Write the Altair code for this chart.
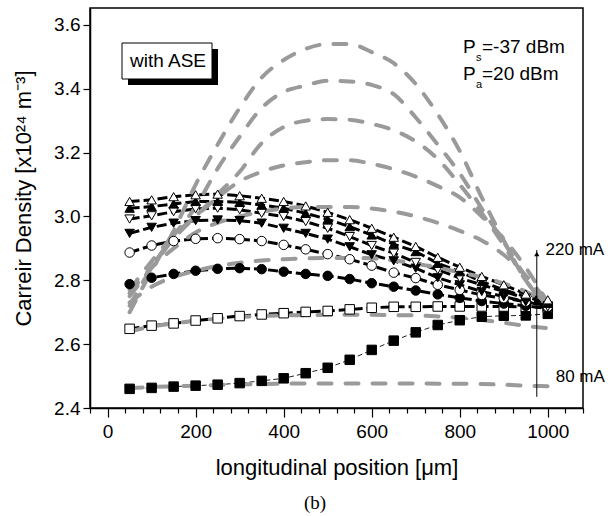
import altair as alt
import pandas as pd

# ---------------- data ----------------
positions = [50, 100, 150, 200, 250, 300, 350, 400, 450, 500,
             550, 600, 650, 700, 750, 800, 850, 900, 950, 1000]

currents = ["80 mA", "100 mA", "120 mA", "140 mA", "160 mA", "180 mA", "200 mA", "220 mA"]

# carrier density with ASE (black, markers)
with_ase = {
    "80 mA":  [2.460, 2.463, 2.467, 2.470, 2.473, 2.478, 2.485, 2.493, 2.509, 2.526,
               2.551, 2.582, 2.611, 2.637, 2.660, 2.675, 2.686, 2.689, 2.690, 2.695],
    "100 mA": [2.648, 2.658, 2.665, 2.674, 2.681, 2.688, 2.693, 2.697, 2.701, 2.704,
               2.709, 2.714, 2.717, 2.717, 2.718, 2.718, 2.718, 2.718, 2.717, 2.715],
    "120 mA": [2.788, 2.808, 2.820, 2.830, 2.836, 2.838, 2.835, 2.827, 2.820, 2.814,
               2.804, 2.791, 2.780, 2.768, 2.756, 2.745, 2.735, 2.727, 2.720, 2.712],
    "140 mA": [2.887, 2.909, 2.923, 2.930, 2.932, 2.929, 2.923, 2.911, 2.897, 2.882,
               2.866, 2.846, 2.824, 2.807, 2.786, 2.770, 2.754, 2.744, 2.733, 2.717],
    "160 mA": [2.947, 2.966, 2.979, 2.987, 2.989, 2.987, 2.979, 2.963, 2.947, 2.929,
               2.905, 2.880, 2.861, 2.838, 2.808, 2.786, 2.765, 2.749, 2.733, 2.720],
    "180 mA": [2.992, 3.002, 3.015, 3.024, 3.026, 3.021, 3.010, 3.000, 2.984, 2.963,
               2.937, 2.909, 2.885, 2.856, 2.833, 2.807, 2.786, 2.765, 2.744, 2.717],
    "200 mA": [3.026, 3.031, 3.039, 3.047, 3.047, 3.044, 3.036, 3.026, 3.010, 2.991,
               2.968, 2.942, 2.913, 2.890, 2.853, 2.827, 2.796, 2.770, 2.749, 2.728],
    "220 mA": [3.047, 3.052, 3.062, 3.068, 3.070, 3.065, 3.057, 3.047, 3.033, 3.013,
               2.990, 2.963, 2.935, 2.906, 2.872, 2.841, 2.812, 2.786, 2.757, 2.739],
}

# gray dashed curves
without_ase = {
    "80 mA":  [2.462, 2.466, 2.468, 2.470, 2.472, 2.474, 2.475, 2.476, 2.477, 2.477,
               2.477, 2.477, 2.477, 2.477, 2.476, 2.476, 2.475, 2.473, 2.470, 2.468],
    "100 mA": [2.640, 2.655, 2.665, 2.673, 2.680, 2.685, 2.688, 2.690, 2.691, 2.692,
               2.692, 2.692, 2.691, 2.690, 2.687, 2.683, 2.676, 2.667, 2.657, 2.650],
    "120 mA": [2.730, 2.780, 2.810, 2.830, 2.845, 2.855, 2.862, 2.866, 2.869, 2.870,
               2.870, 2.869, 2.862, 2.852, 2.840, 2.825, 2.810, 2.790, 2.765, 2.730],
    "140 mA": [2.760, 2.840, 2.900, 2.950, 2.980, 3.000, 3.015, 3.025, 3.030, 3.030,
               3.030, 3.025, 3.015, 3.000, 2.980, 2.955, 2.925, 2.880, 2.815, 2.730],
    "160 mA": [2.770, 2.860, 2.940, 3.000, 3.060, 3.110, 3.140, 3.160, 3.170, 3.176,
               3.176, 3.165, 3.148, 3.125, 3.095, 3.060, 3.000, 2.930, 2.840, 2.730],
    "180 mA": [2.750, 2.840, 2.930, 3.000, 3.070, 3.140, 3.230, 3.280, 3.300, 3.305,
               3.303, 3.290, 3.270, 3.235, 3.180, 3.100, 3.010, 2.910, 2.800, 2.720],
    "200 mA": [2.720, 2.840, 2.940, 3.030, 3.150, 3.250, 3.340, 3.390, 3.410, 3.425,
               3.423, 3.412, 3.383, 3.310, 3.225, 3.135, 3.025, 2.920, 2.810, 2.720],
    "220 mA": [2.700, 2.830, 2.955, 3.100, 3.225, 3.340, 3.435, 3.490, 3.525, 3.540,
               3.540, 3.515, 3.480, 3.415, 3.320, 3.205, 3.060, 2.925, 2.800, 2.720],
}

marker_shapes = ["square", "square", "circle", "circle",
                 "triangle-down", "triangle-down", "triangle-up", "triangle-up"]
marker_fills = ["black", "white", "black", "white", "black", "white", "black", "white"]

x_ticks = list(range(-40, 1081, 40))
y_ticks = [round(2.4 + 0.1 * i, 1) for i in range(13)]

# annotation (data coordinates)
arrow_x = [975]
arrow_bottom = [2.435]
arrow_top = [2.895]
current_labels = ["220 mA", "80 mA"]
current_label_x = [995, 1018]
current_label_y = [2.895, 2.498]

# ---------------- tables ----------------
rows = []
for c in currents:
    for xv, yv in zip(positions, with_ase[c]):
        rows.append({"x": xv, "y": yv, "series": c})
df_black = pd.DataFrame(rows)

rows = []
for c in currents:
    for xv, yv in zip(positions, without_ase[c]):
        rows.append({"x": xv, "y": yv, "series": c})
df_gray = pd.DataFrame(rows)

df_arrow = pd.DataFrame({"x": arrow_x, "y": arrow_bottom, "y2": arrow_top})
df_labels = pd.DataFrame({"x": current_label_x, "y": current_label_y, "t": current_labels})
one = pd.DataFrame({"k": [0]})

FONT = "Liberation Sans"

x_axis = alt.Axis(
    values=x_ticks,
    labelExpr="(datum.value % 200 === 0 && datum.value >= 0 && datum.value <= 1000) ? datum.label : ''",
    format="d",
    tickSize={"condition": {"test": "datum.value % 200 === 0", "value": 9}, "value": 5},
    labelPadding=5,
    labelOverlap=False,
    title="longitudinal position [\u03bcm]",
    titleFontSize=22,
    titleFontWeight="normal",
    titleY=59,
    titleBaseline="middle",
    grid=False,
)
y_axis = alt.Axis(
    values=y_ticks,
    labelExpr="round(datum.value * 10) % 2 === 0 ? format(datum.value, '.1f') : ''",
    tickSize={"condition": {"test": "round(datum.value * 10) % 2 === 0", "value": 7}, "value": 5},
    labelPadding=3,
    labelOverlap=False,
    title="Carreir Density [x10\u00b2\u2074 m\u207b\u00b3]",
    titleFontSize=22,
    titleFontWeight="normal",
    titleX=-67,
    titleY=190,
    titleBaseline="middle",
    grid=False,
)

X = alt.X("x:Q", scale=alt.Scale(domain=[-40, 1080], nice=False, zero=False), axis=x_axis)
Y = alt.Y("y:Q", scale=alt.Scale(domain=[2.4, 3.653], nice=False, zero=False), axis=y_axis)

thick = alt.Chart(df_black[df_black.series != "80 mA"]).mark_line(
    color="black", strokeWidth=3, strokeDash=[10, 4]
).encode(x=X, y=Y, detail="series:N")

thin = alt.Chart(df_black[df_black.series == "80 mA"]).mark_line(
    color="#222222", strokeWidth=1, strokeDash=[5, 3]
).encode(x=X, y=Y)

gray = alt.Chart(df_gray).mark_line(
    color="#9a9a9a", strokeWidth=4, strokeDash=[13, 14], strokeCap="round", interpolate="monotone"
).encode(x=X, y=Y, detail="series:N")

markers = alt.Chart(df_black).mark_point(
    filled=True, stroke="black", strokeWidth=1, size=90, opacity=1
).encode(
    x=X, y=Y,
    shape=alt.Shape("series:N", scale=alt.Scale(domain=currents, range=marker_shapes), legend=None),
    fill=alt.Fill("series:N", scale=alt.Scale(domain=currents, range=marker_fills), legend=None),
)

arrow_rule = alt.Chart(df_arrow).mark_rule(color="black", strokeWidth=1).encode(
    x=X, y=Y, y2="y2:Q"
)
arrow_head = alt.Chart(df_arrow).mark_point(
    shape="triangle-up", filled=True, color="black", size=28, opacity=1, yOffset=4
).encode(x=X, y=alt.Y("y2:Q"))

mA_text = alt.Chart(df_labels).mark_text(
    align="left", baseline="middle", font=FONT, fontSize=17, color="black"
).encode(x=X, y=Y, text="t:N")

shadow = alt.Chart(one).mark_rect(color="black").encode(
    x=alt.value(38), x2=alt.value(128), y=alt.value(41), y2=alt.value(77)
)
box = alt.Chart(one).mark_rect(fill="white", stroke="black", strokeWidth=1).encode(
    x=alt.value(32), x2=alt.value(122), y=alt.value(35), y2=alt.value(71)
)
box_text = alt.Chart(one).mark_text(
    text="with ASE", font=FONT, fontSize=19, align="center", baseline="alphabetic", color="black"
).encode(x=alt.value(78), y=alt.value(59))


def txt(s, x, y, size=19):
    return alt.Chart(one).mark_text(
        text=s, font=FONT, fontSize=size, align="left", baseline="alphabetic", color="black"
    ).encode(x=alt.value(x), y=alt.value(y))


p1 = txt("P", 373, 45)
p1s = txt("s", 386, 53, 11)
p1r = txt("=-37 dBm", 392, 45)
p2 = txt("P", 373, 72)
p2s = txt("a", 386, 80, 11)
p2r = txt("=20 dBm", 392, 72)

b_text = alt.Chart(one).mark_text(
    text="(b)", font="Liberation Serif", fontSize=19, align="center", baseline="middle", color="black"
).encode(x=alt.value(225), y=alt.value(495))

chart = alt.layer(
    thick, thin, gray, markers, arrow_rule, arrow_head, mA_text,
    shadow, box, box_text, p1, p1s, p1r, p2, p2s, p2r, b_text
).properties(
    width=493, height=400,
    padding={"left": 90, "top": 8, "right": 25, "bottom": 108},
    autosize=alt.AutoSizeParams(type="none"),
).configure_view(
    stroke="black", strokeWidth=1.5
).configure_axis(
    domainColor="black", domainWidth=1.5, tickColor="black", tickWidth=1.2,
    labelFont=FONT, labelFontSize=19, labelColor="black",
    titleFont=FONT, titleColor="black",
)

chart.save("out.html", embed_options={"renderer": "svg", "actions": False})
